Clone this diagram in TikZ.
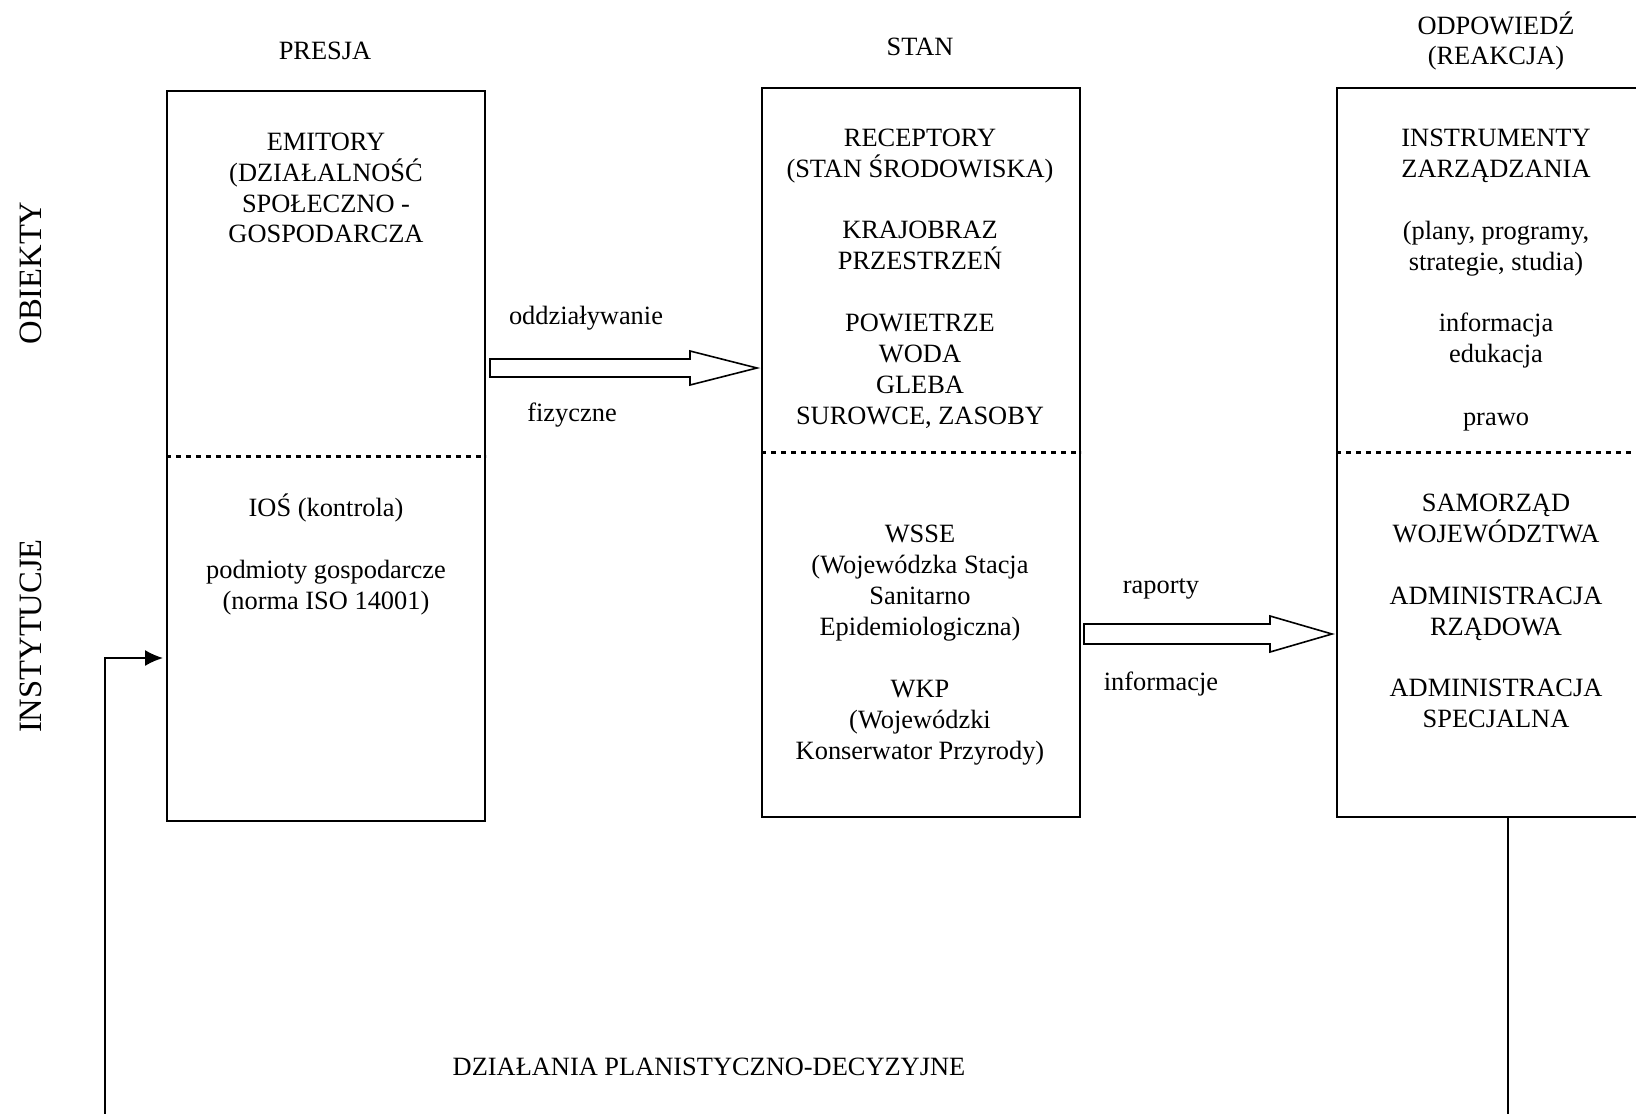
\documentclass[tikz,border=0pt]{standalone}
\usepackage{fontspec}
\setmainfont{Liberation Serif}
\usetikzlibrary{calc,arrows.meta}
\tikzset{
  box/.style={draw, line width=1pt, inner sep=0pt, minimum width=159pt, minimum height=364.5pt},
  txt/.style={font=\fontsize{13.2}{15.45}\selectfont, align=center, inner sep=0pt},
  sidetxt/.style={font=\fontsize{16.3}{19}\selectfont, rotate=90, inner sep=0pt},
  sepline/.style={line width=1.5pt, dash pattern=on 2.5pt off 2.5pt},
  blockarrow/.style={draw, line width=0.8pt, fill=white, line join=miter},
  thinline/.style={line width=0.8pt}
}
\begin{document}
\begin{tikzpicture}[x=0.5pt,y=-0.5pt]
\useasboundingbox (0,0) rectangle (1636,1113);
\clip (0,0) rectangle (1636,1113);
% boxes
\node[box] (b1) at (326,456) {};
\node[box] (b2) at (921,452.5) {};
\node[box] (b3) at (1496,452.5) {};
% dashed separators
\draw[sepline] (b1.west |- 0,456) -- (b1.east |- 0,456);
\draw[sepline] (b2.west |- 0,452) -- (b2.east |- 0,452);
\draw[sepline] (b3.west |- 0,452) -- (b3.east |- 0,452);
% headings
\node[txt] (hp) at (325,51) {PRESJA};
\node[txt] (hs) at (920,47) {STAN};
\node[txt] (ho) at (1496,41) {ODPOWIEDŹ\\(REAKCJA)};
\node[sidetxt] (ob) at (31,273) {OBIEKTY};
\node[sidetxt] (in) at (31,636) {INSTYTUCJE};
% box 1
\node[txt] (t11) at (326,188) {EMITORY\\(DZIAŁALNOŚĆ\\SPOŁECZNO -\\GOSPODARCZA};
\node[txt] (t12) at (326,508) {IOŚ (kontrola)};
\node[txt] (t13) at (326,588) {podmioty gospodarcze\\(norma ISO 14001)};
% box 2
\node[txt] (t21) at (920,156) {RECEPTORY\\(STAN ŚRODOWISKA)};
\node[txt] (t22) at (920,245) {KRAJOBRAZ\\PRZESTRZEŃ};
\node[txt] (t23) at (920,371) {POWIETRZE\\WODA\\GLEBA\\SUROWCE, ZASOBY};
\node[txt] (t24) at (920,583) {WSSE\\(Wojewódzka Stacja\\Sanitarno\\Epidemiologiczna)};
\node[txt] (t25) at (920,723) {WKP\\(Wojewódzki\\Konserwator Przyrody)};
% box 3
\node[txt] (t31) at (1496,155.5) {INSTRUMENTY\\ZARZĄDZANIA};
\node[txt] (t32) at (1496,248.5) {(plany, programy,\\strategie, studia)};
\node[txt] (t33) at (1496,340.5) {informacja\\edukacja};
\node[txt] (t34) at (1496,422) {prawo};
\node[txt] (t35) at (1496,518.5) {SAMORZĄD\\WOJEWÓDZTWA};
\node[txt] (t36) at (1496,614) {ADMINISTRACJA\\RZĄDOWA};
\node[txt] (t37) at (1496,703.5) {ADMINISTRACJA\\SPECJALNA};
% arrow labels
\node[txt] (l1) at (586,318) {oddziaływanie};
\node[txt] (l2) at (572,415) {fizyczne};
\node[txt] (l3) at (1161,589) {raporty};
\node[txt] (l4) at (1161,684) {informacje};
% block arrow 1
\coordinate (a1s) at ($(b1.east |- 0,368)+(4,0)$);
\coordinate (a1e) at ($(b2.west |- 0,368)+(-4,0)$);
\draw[blockarrow] ($(a1s)+(0,-9)$) -- ($(a1e)+(-67,-9)$) -- ($(a1e)+(-67,-17)$) -- (a1e)
  -- ($(a1e)+(-67,17)$) -- ($(a1e)+(-67,9)$) -- ($(a1s)+(0,9)$) -- cycle;
% block arrow 2
\coordinate (a2s) at ($(b2.east |- 0,634)+(3,0)$);
\coordinate (a2e) at ($(b3.west |- 0,634)+(-4,0)$);
\draw[blockarrow] ($(a2s)+(0,-10)$) -- ($(a2e)+(-62,-10)$) -- ($(a2e)+(-62,-18)$) -- (a2e)
  -- ($(a2e)+(-62,18)$) -- ($(a2e)+(-62,10)$) -- ($(a2s)+(0,10)$) -- cycle;
% feedback lines
\coordinate (fb0) at (105,1120);
\draw[thinline,-{Latex[length=9pt,width=8pt]}] (fb0) |- ($(b1.west |- 0,658)+(-3,0)$);
\coordinate (fr0) at (1508,1120);
\draw[thinline] (b3.south -| fr0) -- (fr0);
% bottom label
\node[txt] (bt) at (709,1067) {DZIAŁANIA PLANISTYCZNO-DECYZYJNE};
\end{tikzpicture}
\end{document}
